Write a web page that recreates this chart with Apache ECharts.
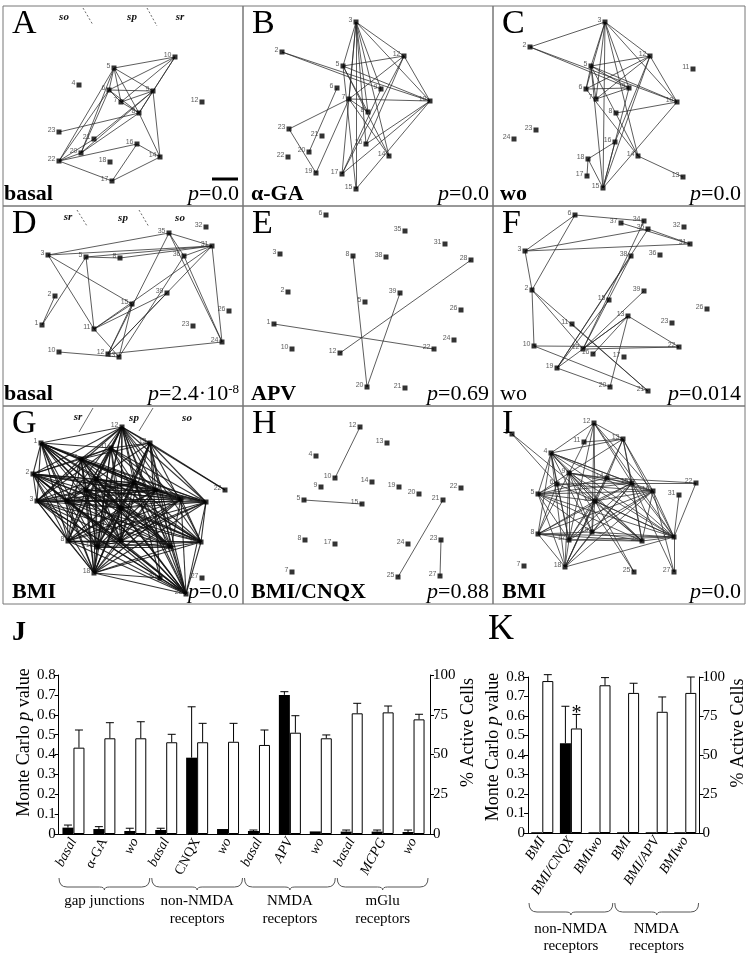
<!DOCTYPE html>
<html><head><meta charset="utf-8">
<script src="https://cdn.jsdelivr.net/npm/echarts@6.0.0/dist/echarts.min.js"></script>
<style>html,body{margin:0;padding:0;background:#fff;}#chart{width:748px;height:959px;}</style>
</head><body><div id="chart"></div>
<script>
// ===== Network panels: cell positions (slice coordinates) and connections =====
const A_nodes = [['10',175,57],['5',114,68],['4',79,85],['6',109,90],['9',153,91],['7',121,102],['8',139,113],['12',202,102],['23',59,132],['21',94,139],['16',137,144],['20',81,153],['14',160,157],['22',59,161],['18',110,162],['17',112,181]];
const A_edges = ['10-5','10-6','10-7','10-9','10-8','5-6','5-9','5-7','5-8','5-22','5-20','6-9','6-7','6-8','6-22','6-20','7-9','7-8','9-8','9-14','9-20','9-21','8-23','8-14','22-20','22-21','22-16','22-17','16-17','16-14','17-14','20-8'];

const B_nodes = [['3',108,22],['2',34,52],['12',156,56],['5',95,66],['6',89,88],['9',133,89],['7',101,99],['10',182,101],['8',120,112],['23',41,129],['21',74,136],['16',118,144],['20',61,152],['22',40,157],['14',141,156],['19',68,173],['17',94,174],['15',108,189]];
const B_edges = ['3-12','3-10','3-5','3-7','3-8','3-9','3-14','3-16','3-15','3-17','2-9','2-10','12-5','12-16','12-17','12-10','12-7','5-10','5-8','5-14','7-10','7-23','7-19','7-8','7-14','6-20','23-19','10-16','10-17','9-17','10-15','5-15'];

const C_nodes = [['3',109,22],['2',34,47],['12',154,56],['11',197,69],['5',95,66],['6',90,89],['9',133,88],['7',100,99],['10',181,102],['8',120,113],['23',40,130],['24',18,139],['16',119,142],['18',92,159],['14',142,156],['17',91,176],['15',107,188],['13',187,177]];
const C_edges = ['2-3','2-9','2-10','3-12','3-5','3-6','3-7','3-9','3-14','3-10','3-15','12-5','12-6','12-7','12-10','12-15','12-16','5-9','5-6','5-7','5-10','5-15','5-14','6-9','7-9','8-10','9-15','10-15','16-18','16-15','18-17','14-13','6-14','18-15'];

const D_nodes = [['35',169,30],['32',206,24],['31',212,43],['3',48,52],['5',86,54],['8',120,55],['36',184,53],['2',55,93],['39',167,90],['15',132,101],['26',229,108],['1',42,122],['11',94,126],['23',193,123],['24',222,139],['10',59,149],['12',108,151],['13',119,154]];
const D_edges = ['3-35','3-31','3-15','3-11','5-8','5-31','5-11','5-1','35-31','35-36','35-24','35-12','31-36','31-24','31-11','31-12','36-24','36-13','39-11','39-12','15-11','15-12','15-13','11-13','10-13','12-24','2-1','8-31'];

const E_nodes = [['6',78,12],['35',157,28],['31',197,41],['3',32,51],['8',105,53],['38',138,54],['28',223,57],['2',40,89],['39',152,90],['5',117,99],['26',213,107],['1',26,121],['24',206,137],['10',44,146],['22',186,146],['12',92,150],['20',119,184],['21',157,185]];
const E_edges = ['1-22','12-28','8-20','39-20'];

const F_nodes = [['6',79,12],['37',125,20],['34',148,18],['35',152,26],['32',188,24],['31',194,41],['3',29,48],['38',135,53],['36',164,52],['2',36,87],['39',148,88],['15',113,97],['26',211,106],['11',76,121],['13',132,113],['23',176,120],['10',38,143],['12',87,146],['16',97,151],['22',183,144],['17',128,154],['19',61,165],['20',114,184],['21',152,188]];
const F_edges = ['6-34','6-3','6-2','37-31','35-31','3-35','3-31','3-2','2-10','2-21','2-12','10-22','10-21','35-19','34-12','38-19','38-12','15-19','39-12','13-12','13-16','13-22','13-19','13-20','19-20','11-21','12-22'];

const G_nodes = [['12',122,22],['13',150,38],['1',41,38],['11',111,43],['4',81,54],['2',33,69],['9',96,74],['14',134,78],['5',86,85],['19',156,85],['22',225,85],['3',37,96],['6',67,96],['20',181,94],['21',206,97],['15',121,103],['8',68,136],['10',97,142],['16',121,136],['23',171,142],['24',201,137],['18',94,168],['25',160,173],['27',202,173],['26',186,189]];
const G_adj = ['1:12,11,4,2,9,14,5,19,3,6,20,21,15,8,10,16,23,24,18,26','2:12,11,4,9,14,5,19,3,6,20,21,15,8,10,16,23,24,18,25,26','3:12,11,4,9,14,5,19,6,20,21,15,8,10,16,23,24,18,25,26','12:13,11,4,9,14,5,19,6,20,21,15,8,10,16,23,24,18,25,26,22','13:11,4,9,14,19,22,21,15,10,16,23,24,18,25,26','4:11,9,14,5,19,6,20,21,15,8,10,16,23,24,18,26','9:14,5,19,6,20,21,15,8,10,16,23,24,18,26','11:9,14,5,19,20,21,15,10,16,18,26','14:5,19,6,20,21,8,10,16,23,24,18,26','5:19,6,20,21,15,8,10,16,23,24,18,26','19:6,20,21,15,8,10,16,18,26','6:20,21,15,8,10,16,23,24,18,26','20:15,8,10,16,23,24,18,26','21:15,8,10,16,24,18,26','15:8,10,16,23,24,18,26','8:10,16,23,24,18,26','10:16,23,24,18,26','16:23,24,18,26','23:24,18,26','24:18,26','18:25,26','25:26'];

const H_nodes = [['12',112,22],['13',139,38],['4',68,51],['10',87,73],['14',124,77],['9',73,82],['19',151,82],['22',213,83],['20',171,89],['5',56,95],['21',195,95],['15',114,99],['8',57,135],['23',193,135],['17',87,139],['24',160,139],['7',44,167],['25',150,172],['27',192,171]];
const H_edges = ['12-10','5-15','21-25','23-27'];

const I_nodes = [['12',98,18],['1',16,29],['11',88,37],['13',127,34],['4',55,48],['9',73,68],['6',61,79],['14',111,73],['15',136,78],['22',200,78],['16',157,86],['31',183,90],['5',42,89],['10',99,96],['8',42,129],['17',73,135],['19',96,127],['24',146,136],['21',178,132],['7',28,161],['18',69,162],['25',138,167],['27',178,167]];
const I_adj = ['12:4,9,13,15,16,17,19,10,21','1:6,24','13:4,9,14,15,16,21,18,24,11','4:9,6,5,8,14,15,16,10,17,18,21,24,19','9:5,8,14,15,16,10,17,19,24,21,25,18','6:5,8,15,16,17,21','14:22,5,16,17,21,18','15:22,5,8,10,17,19,21,24,18,27','16:5,8,10,17,19,21,24,18,27','22:21','31:21','5:10,17,24,21,18,19','10:8,17,21,24,25,18,19','8:17,19,24,21,18','17:24,21,18','19:21,18,24','24:21','21:27,18'];

// ===== Bar chart J =====
const J_cats = ['basal','α-GA','wo','basal','CNQX','wo','basal','APV','wo','basal','MCPG','wo'];
const J_p = [0.032,0.025,0.015,0.020,0.384,0.025,0.015,0.700,0.013,0.012,0.012,0.010];
const J_pErr = [0.013,0.012,0.014,0.009,0.256,0,0.005,0.016,0,0.008,0.008,0.010];
const J_act = [54.3,60.2,60.2,57.7,57.7,58.0,56.0,63.7,60.2,75.9,76.5,72.1];
const J_actErr = [11.1,9.8,10.4,5.0,11.9,11.6,9.4,10.7,2.1,6.3,4.0,3.2];
const J_groups = ['gap junctions','non-NMDA\nreceptors','NMDA\nreceptors','mGlu\nreceptors'];
const J_groupSpan = [[0,2],[3,5],[6,8],[9,11]];
const J_leftTicks = [0,0.8,0.1];
const J_rightTicks = [0,100,25];

// ===== Bar chart K =====
const K_cats = ['BMI','BMI/CNQX','BMIwo','BMI','BMI/APV','BMIwo'];
const K_p = [0.004,0.46,0.004,0.004,0.004,0.004];
const K_pErr = [0,0.19,0,0,0,0];
const K_act = [97.4,67.0,94.7,89.8,77.7,89.8];
const K_actErr = [4.1,9.0,4.9,6.2,9.5,10.2];
const K_sig = [0,1,0,0,0,0];
const K_groups = ['non-NMDA\nreceptors','NMDA\nreceptors'];
const K_groupSpan = [[0,2],[3,5]];

// ===== layout / style =====
const SERIF = 'Liberation Serif', SANS = 'Liberation Sans';
const colX = [3,243,493,745], rowY = [6,206,406,604], cropX = [0,248,496], cropY = [0,203,405];
function pairEdges(list){ return list.map(s => s.split('-')); }
function adjEdges(list){ const out=[]; list.forEach(s => { const parts=s.split(':'); parts[1].split(',').forEach(b => out.push([parts[0], b])); }); return out; }

const panels = [
  {nodes:A_nodes, edges:pairEdges(A_edges), L:'A', cond:'basal', p:'0.0', cx:1},
  {nodes:B_nodes, edges:pairEdges(B_edges), L:'B', cond:'α-GA', p:'0.0', cx:8},
  {nodes:C_nodes, edges:pairEdges(C_edges), L:'C', cond:'wo', p:'0.0', cx:7},
  {nodes:D_nodes, edges:pairEdges(D_edges), L:'D', cond:'basal', p:'2.4·10', sup:'-8', cx:1},
  {nodes:E_nodes, edges:pairEdges(E_edges), L:'E', cond:'APV', p:'0.69', cx:8},
  {nodes:F_nodes, edges:pairEdges(F_edges), L:'F', cond:'wo', p:'0.014', cx:7, light:true},
  {nodes:G_nodes, edges:adjEdges(G_adj), L:'G', cond:'BMI', p:'0.0', cx:9, lw:1.1, lc:'#111'},
  {nodes:H_nodes, edges:pairEdges(H_edges), L:'H', cond:'BMI/CNQX', p:'0.88', cx:8},
  {nodes:I_nodes, edges:adjEdges(I_adj), L:'I', cond:'BMI', p:'0.0', cx:9}
];
const layerDeco = [
  {panel:0, labels:[['so',64,17],['sp',132,17],['sr',180,17]], lines:[[83,8,93,25],[147,8,157,26]], dash:true},
  {panel:3, labels:[['sr',68,14],['sp',123,15],['so',180,15]], lines:[[77,7,87,23],[139,7,149,24]], dash:true},
  {panel:6, labels:[['sr',78,12],['sp',134,13],['so',187,13]], lines:[[93,3,79,27],[153,3,139,26]], dash:false}
];

const grids=[], xAxes=[], yAxes=[], series=[], gfx=[];
panels.forEach((P,i) => {
  const c=i%3, r=Math.floor(i/3);
  grids.push({left:colX[c], top:rowY[r], width:colX[c+1]-colX[c], height:rowY[r+1]-rowY[r], show:true, borderColor:'#777', borderWidth:1, backgroundColor:'transparent'});
  xAxes.push({gridIndex:i, type:'value', min:colX[c]-cropX[c], max:colX[c+1]-cropX[c], show:false});
  yAxes.push({gridIndex:i, type:'value', inverse:true, min:rowY[r]-cropY[r], max:rowY[r+1]-cropY[r], show:false});
  const pos={}; P.nodes.forEach(n => pos[n[0]] = [n[1], n[2]]);
  series.push({type:'lines', coordinateSystem:'cartesian2d', xAxisIndex:i, yAxisIndex:i, silent:true, z:2,
    lineStyle:{color:P.lc||'#2a2a2a', width:P.lw||0.9, opacity:0.85},
    data:P.edges.filter(e => pos[e[0]] && pos[e[1]]).map(e => ({coords:[pos[e[0]], pos[e[1]]]}))});
  series.push({type:'scatter', xAxisIndex:i, yAxisIndex:i, symbol:'rect', symbolSize:5, silent:true, z:3,
    itemStyle:{color:'#000'},
    label:{show:true, position:'left', distance:1, offset:[0,-2], formatter:'{b}', fontSize:7, color:'#333', fontFamily:SANS},
    data:P.nodes.map(n => ({name:n[0], value:[n[1], n[2]]}))});
  const L=colX[c], R=colX[c+1], T=rowY[r], B=rowY[r+1];
  gfx.push({type:'text', x:L+9, y:T+1, z:10, style:{text:P.L, fontFamily:SERIF, fontSize:34, fill:'#000', align:'left', verticalAlign:'top', textAlign:'left', textVerticalAlign:'top'}});
  gfx.push({type:'text', x:L+P.cx, y:B-1, z:10, style:{text:P.cond, fontFamily:SERIF, fontSize:22, fontWeight:P.light?'normal':'bold', fill:'#000', align:'left', verticalAlign:'bottom', textAlign:'left', textVerticalAlign:'bottom'}});
  gfx.push({type:'text', x:R-4, y:B-1, z:10, style:{
    text:'{i|p}{n|='+P.p+'}'+(P.sup?'{s|'+P.sup+'}':''),
    rich:{i:{fontFamily:SERIF, fontSize:22, fontStyle:'italic', fill:'#000'}, n:{fontFamily:SERIF, fontSize:22, fill:'#000'}, s:{fontFamily:SERIF, fontSize:13, fill:'#000', verticalAlign:'top'}},
    align:'right', verticalAlign:'bottom', textAlign:'right', textVerticalAlign:'bottom'}});
});
layerDeco.forEach(d => {
  const c=d.panel%3, r=Math.floor(d.panel/3), ox=cropX[c], oy=cropY[r];
  d.labels.forEach(l => gfx.push({type:'text', x:ox+l[1], y:oy+l[2], z:10, style:{text:l[0], fontFamily:SERIF, fontSize:11, fontWeight:'bold', fontStyle:'italic', fill:'#111', align:'center', verticalAlign:'middle', textAlign:'center', textVerticalAlign:'middle'}}));
  d.lines.forEach(s => gfx.push({type:'line', z:10, shape:{x1:ox+s[0], y1:oy+s[1], x2:ox+s[2], y2:oy+s[3]}, style:{stroke:'#444', lineWidth:0.8, lineDash:d.dash?[2,2]:null}}));
});
// scale bar in panel A
gfx.push({type:'line', z:10, shape:{x1:212, y1:179, x2:238, y2:179}, style:{stroke:'#000', lineWidth:3}});
// J and K panel letters
gfx.push({type:'text', x:12, y:619, style:{text:'J', fontFamily:SERIF, fontSize:28, fontWeight:'bold', fill:'#000', align:'left', verticalAlign:'top', textAlign:'left', textVerticalAlign:'top'}});
gfx.push({type:'text', x:488, y:612, style:{text:'K', fontFamily:SERIF, fontSize:36, fill:'#000', align:'left', verticalAlign:'top', textAlign:'left', textVerticalAlign:'top'}});

// ===== bar charts =====
const gJax=9, gJ=10, gK=11;
grids.push({left:48, top:675, width:382, height:159});   // J axes frame
grids.push({left:58, top:675, width:371, height:159});   // J bars
grids.push({left:528, top:677, width:181, height:156});  // K

const axText = {fontFamily:SERIF, fontSize:15, color:'#000'};
const nameRich = {n:{fontFamily:SERIF, fontSize:18, color:'#000'}, i:{fontFamily:SERIF, fontSize:18, fontStyle:'italic', color:'#000'}};
function leftAxis(grid, gap, shift){
  return {gridIndex:grid, type:'value', position:'left', min:J_leftTicks[0], max:J_leftTicks[1], interval:J_leftTicks[2],
    axisLine:{show:true, lineStyle:{color:'#000', width:1}}, axisTick:{show:true, length:4, lineStyle:{color:'#000'}},
    axisLabel:Object.assign({margin:3, formatter:v => v===0 ? '0' : v.toFixed(1)}, axText), splitLine:{show:false},
    name:'{n|Monte Carlo }{i|p}{n| value}', nameLocation:'middle', nameGap:gap, nameRotate:90,
    nameTextStyle:{fontFamily:SERIF, fontSize:18, color:'#000', rich:nameRich, padding:[0,0,0,shift]}};
}
function rightAxis(grid, gap, shift){
  return {gridIndex:grid, type:'value', position:'right', min:J_rightTicks[0], max:J_rightTicks[1], interval:J_rightTicks[2],
    axisLine:{show:true, lineStyle:{color:'#000', width:1}}, axisTick:{show:true, length:4, lineStyle:{color:'#000'}},
    axisLabel:Object.assign({margin:3}, axText), splitLine:{show:false},
    name:'% Active Cells', nameLocation:'middle', nameGap:gap, nameRotate:90,
    nameTextStyle:{fontFamily:SERIF, fontSize:18, color:'#000', padding:[0,0,0,shift]}};
}
// xAxes 9,10,11
xAxes.push({gridIndex:gJax, type:'value', min:0, max:1, axisLine:{show:true, lineStyle:{color:'#000'}}, axisTick:{show:false}, axisLabel:{show:false}, splitLine:{show:false}});
const catRich = {i:{fontFamily:SERIF, fontSize:14, fontStyle:'italic', color:'#000'}, n:{fontFamily:SERIF, fontSize:14, color:'#000'}};
const J_roman = ['α-GA','CNQX'];
xAxes.push({gridIndex:gJ, type:'category', data:J_cats.map((c,i) => c+'#'+i), axisLine:{show:false}, axisTick:{show:false},
  axisLabel:{interval:0, rotate:62, margin:5, formatter:(v,i) => { const t=J_cats[i]; return J_roman.indexOf(t)>=0 ? '{n|'+t+'}' : '{i|'+t+'}'; }, rich:catRich}});
xAxes.push({gridIndex:gK, type:'category', data:K_cats.map((c,i) => c+'#'+i), axisLine:{show:true, lineStyle:{color:'#000'}}, axisTick:{show:false},
  axisLabel:{interval:0, rotate:57, margin:5, formatter:(v,i) => '{i|'+K_cats[i]+'}', rich:catRich}});
// yAxes 9..14
yAxes.push(leftAxis(gJax, 19, 24));    // 9
yAxes.push(rightAxis(gJax, 20, 44));   // 10
yAxes.push({gridIndex:gJ, type:'value', min:0, max:0.8, show:false});   // 11
yAxes.push({gridIndex:gJ, type:'value', min:0, max:100, show:false});   // 12
yAxes.push(leftAxis(gK, 19, 16));      // 13
yAxes.push(rightAxis(gK, 12, 44));     // 14

const BW = 11;
function bars(xi, yi, vals, black){
  return {type:'bar', xAxisIndex:xi, yAxisIndex:yi, data:vals, barWidth:BW, barGap:'0%', silent:true, z:3,
    itemStyle: black ? {color:'#000'} : {color:'#fff', borderColor:'#000', borderWidth:1}};
}
function errs(xi, yi, vals, e, side, sig){
  return {type:'custom', xAxisIndex:xi, yAxisIndex:yi, clip:false, silent:true, z:5,
    data:vals.map((v,i) => [i, v, v+e[i], sig ? sig[i] : 0]),
    renderItem:(params, api) => {
      const i=api.value(0), v=api.value(1), t=api.value(2);
      const p0=api.coord([i, v]), p1=api.coord([i, t]);
      const x=p0[0] + side*BW/2, ch=[];
      if (t > v) {
        ch.push({type:'line', shape:{x1:x, y1:p0[1], x2:x, y2:p1[1]}, style:{stroke:'#000', lineWidth:1}});
        ch.push({type:'line', shape:{x1:x-4, y1:p1[1], x2:x+4, y2:p1[1]}, style:{stroke:'#000', lineWidth:1}});
      }
      if (api.value(3)) ch.push({type:'text', style:{text:'*', x:x, y:p1[1]+9, fontFamily:SERIF, fontSize:20, fill:'#000', align:'center', verticalAlign:'bottom', textAlign:'center', textVerticalAlign:'bottom'}});
      return {type:'group', children:ch};
    }};
}
function braces(xi, yi, spans, names, yTop, labelTop, lh){
  return {type:'custom', xAxisIndex:xi, yAxisIndex:yi, clip:false, silent:true, z:5,
    data:spans.map(s => [s[0], s[1]]),
    renderItem:(params, api) => {
      const s=api.value(0), e=api.value(1), band=api.size([1,0])[0];
      const x0=api.coord([s,0])[0]-band/2+1, x1=api.coord([e,0])[0]+band/2-1, xc=(x0+x1)/2;
      const yb=yTop+9, st={stroke:'#555', lineWidth:1, fill:null};
      return {type:'group', children:[
        {type:'bezierCurve', shape:{x1:x0, y1:yTop, cpx1:x0, cpy1:yb, x2:x0+8, y2:yb}, style:st},
        {type:'line', shape:{x1:x0+8, y1:yb, x2:xc-5, y2:yb}, style:st},
        {type:'bezierCurve', shape:{x1:xc-5, y1:yb, cpx1:xc, cpy1:yb, x2:xc, y2:yb+3}, style:st},
        {type:'bezierCurve', shape:{x1:xc, y1:yb+3, cpx1:xc, cpy1:yb, x2:xc+5, y2:yb}, style:st},
        {type:'line', shape:{x1:xc+5, y1:yb, x2:x1-8, y2:yb}, style:st},
        {type:'bezierCurve', shape:{x1:x1-8, y1:yb, cpx1:x1, cpy1:yb, x2:x1, y2:yTop}, style:st},
        {type:'text', style:{text:names[params.dataIndex], x:xc, y:labelTop, fontFamily:SERIF, fontSize:15, lineHeight:lh, fill:'#000', align:'center', verticalAlign:'top', textAlign:'center', textVerticalAlign:'top'}}
      ]};
    }};
}
series.push(bars(gJ, 11, J_p, true));
series.push(bars(gJ, 12, J_act, false));
series.push(errs(gJ, 11, J_p, J_pErr, -1));
series.push(errs(gJ, 12, J_act, J_actErr, 1));
series.push(braces(gJ, 11, J_groupSpan, J_groups, 878, 892, 18));
series.push(bars(gK, 13, K_p, true));
series.push(bars(gK, 14, K_act, false));
series.push(errs(gK, 13, K_p, K_pErr, -1));
series.push(errs(gK, 14, K_act, K_actErr, 1, K_sig));
series.push(braces(gK, 13, K_groupSpan, K_groups, 903, 921, 17));

const chart = echarts.init(document.getElementById('chart'), null, {renderer:'canvas'});
chart.setOption({
  backgroundColor:'#fff', animation:false,
  textStyle:{fontFamily:SERIF},
  grid:grids, xAxis:xAxes, yAxis:yAxes, series:series, graphic:{elements:gfx}
});
</script></body></html>
